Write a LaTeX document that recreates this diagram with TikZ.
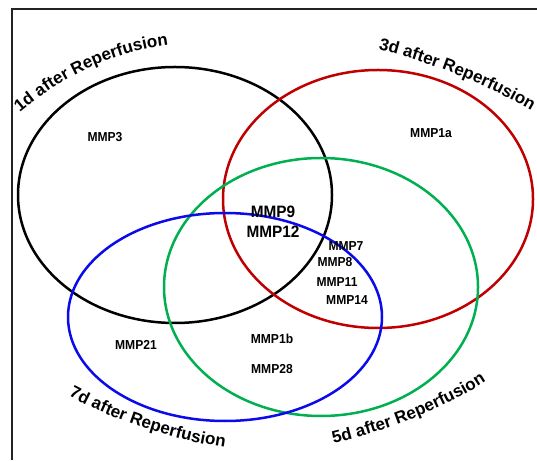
\documentclass[tikz,border=0pt]{standalone}
\usepackage{fontspec}
\setmainfont{Liberation Sans}
\usetikzlibrary{decorations.text}
\definecolor{vred}{RGB}{192,0,0}
\definecolor{vblue}{RGB}{10,10,235}
\definecolor{vgreen}{RGB}{0,176,80}
\definecolor{framec}{RGB}{35,35,35}
\begin{document}
\begin{tikzpicture}[x=1pt,y=1pt,
  venn/.style={line width=2.5pt},
  mmp/.style={font=\bfseries\fontsize{13}{15}\selectfont, inner sep=0pt, xscale=0.93, transform shape},
  bigmmp/.style={font=\bfseries\fontsize{16.5}{20}\selectfont, inner sep=0pt, align=center, xscale=0.93, transform shape},
  arclabel/.style={decorate, decoration={text along path, text align=center,
     text={|\bfseries\fontsize{17}{17}\selectfont|#1}}}
]
\useasboundingbox (0,0) rectangle (537,460);
% frame
\draw[framec, line width=2pt] (11.5,0) -- (11.5,451) -- (537,451);
% ellipses
\draw[venn, black]  (175,265) ellipse[x radius=157, y radius=128];
\draw[venn, vred]   (378,261) ellipse[x radius=155, y radius=129];
\draw[venn, vgreen] (321,173) ellipse[x radius=157, y radius=129];
\draw[venn, vblue]  (225,143) ellipse[x radius=157, y radius=104];
% curved labels
\path[arclabel={1d after Reperfusion}]
  (4.7,335.1) -- (20,348) .. controls (63,384) and (113,408) .. (168,415) -- (187.7,418.7);
\path[arclabel={3d after Reperfusion}]
  (360.6,414.8) -- (380,410) .. controls (432,397) and (483,377) .. (530,350) -- (547.3,340);
\path[arclabel={7d after Reperfusion}]
  (53.3,72.4) -- (71,63) .. controls (118,38) and (170,21) .. (222,13) -- (241.8,10);
\path[arclabel={5d after Reperfusion}]
  (315.6,12.2) -- (335,17) .. controls (387,30) and (440,49) .. (485,78) -- (501.8,88.9);
% MMP labels
\node[mmp] (m3)   at (105,323) {MMP3};
\node[mmp] (m1a)  at (431,327) {MMP1a};
\node[bigmmp] (m912) at (273,238) {MMP9\\MMP12};
\node[mmp] (m7)   at (346,214) {MMP7};
\node[mmp] (m8)   at (335,198) {MMP8};
\node[mmp] (m11)  at (337,178) {MMP11};
\node[mmp] (m14)  at (347,160) {MMP14};
\node[mmp] (m21)  at (136,115) {MMP21};
\node[mmp] (m1b)  at (272,121) {MMP1b};
\node[mmp] (m28)  at (272,91)  {MMP28};
\end{tikzpicture}
\end{document}
